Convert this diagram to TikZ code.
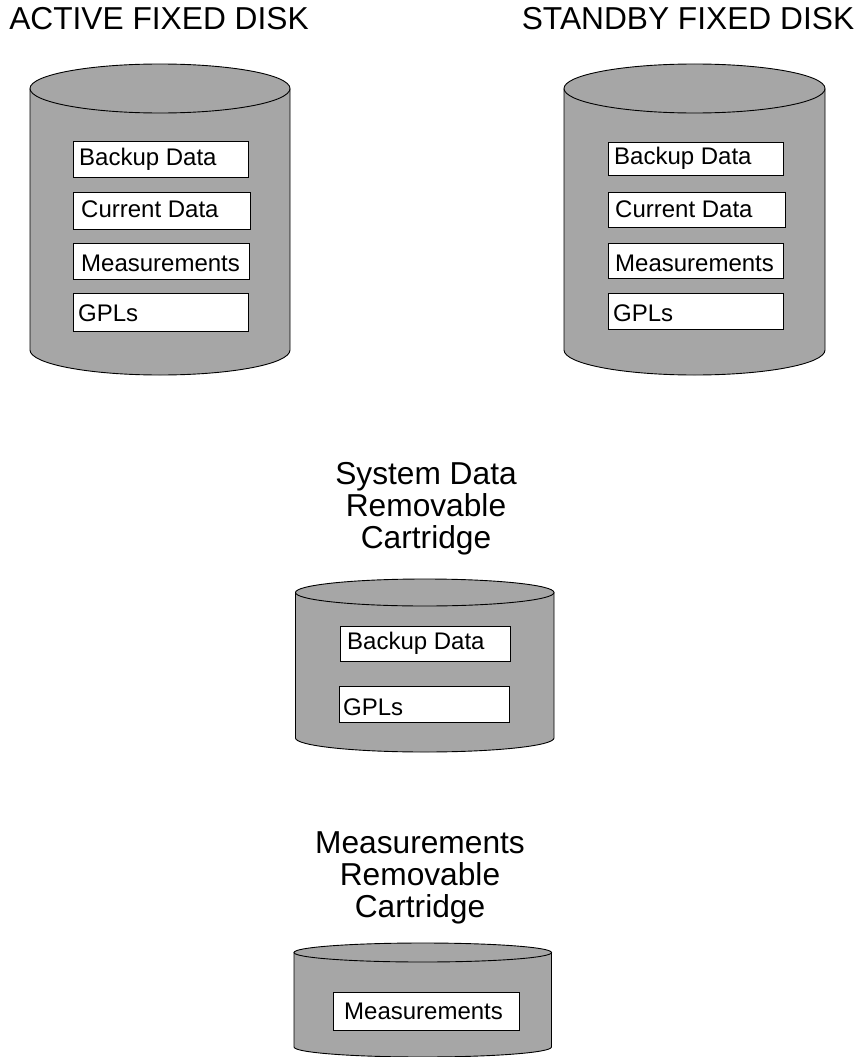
\documentclass[tikz,border=0pt]{standalone}
\usepackage{fontspec}
\setmainfont{Liberation Sans}
\newcommand{\cyl}[6]{% left, right, top-centre y, bottom-side y, top ry, bottom ry
 \fill[diskgrey] (#1,-#3) -- (#1,-#4) arc[start angle=180,end angle=360,x radius={(#2-#1)/2},y radius=#6] -- (#2,-#3) -- cycle;
 \draw[ol] (#1,-#3) -- (#1,-#4) arc[start angle=180,end angle=360,x radius={(#2-#1)/2},y radius=#6] -- (#2,-#3);
 \draw[ol,fill=diskgrey] ({(#1+#2)/2},-#3) ellipse[x radius={(#2-#1)/2},y radius=#5];
}
\tikzset{x=1pt,y=1pt,
 ol/.style={draw=black,line width=0.9pt},
 lab/.style={font=\fontsize{31.7}{32}\selectfont,align=center,inner sep=0pt,text=black},
 inner/.style={font=\fontsize{24}{28}\selectfont,inner sep=0pt,text=black,anchor=base west}}
\definecolor{diskgrey}{gray}{0.65}
\begin{document}
\begin{tikzpicture}
\useasboundingbox (0,0) rectangle (862,-1057);
\node[lab,anchor=base] (t1) at (159,-30) {ACTIVE FIXED DISK};
\node[lab,anchor=base] (t2) at (688,-30) {STANDBY FIXED DISK};
\node[lab] (t3) at (426,-509) {System Data\\Removable\\Cartridge};
\node[lab] (t4) at (420,-878) {Measurements\\Removable\\Cartridge};
\cyl{30}{290}{88.5}{350}{24.5}{25}
\cyl{564}{825}{88.5}{350}{24.5}{25}
\cyl{295.5}{554}{592.5}{738}{13.5}{14}
\cyl{294}{551.5}{952.5}{1047}{9.5}{10}
\foreach \n/\l/\r/\t/\b/\tx/\by/\s in {
 a1/73/248/141/177/79/165/Backup Data,
 a2/73/250/192/229/81/217/Current Data,
 a3/73/249/243/279/81/271/Measurements,
 a4/73/248/293/331/78/321/GPLs,
 b1/608/783/142/175/614/164/Backup Data,
 b2/608/785/192/227/615/217/Current Data,
 b3/608/783/243/278/615/271.5/Measurements,
 b4/608/783/293/329/613/321.5/GPLs,
 c1/340/510.5/626/661/347/649.5/Backup Data,
 c2/339/509.5/686/722/343/715/GPLs,
 d1/333/519.5/992/1030/344/1019/Measurements}{
 \draw[ol,fill=white] (\l,-\t) rectangle (\r,-\b);
 \node[inner] (\n) at (\tx,-\by) {\s};
}
\end{tikzpicture}
\end{document}
